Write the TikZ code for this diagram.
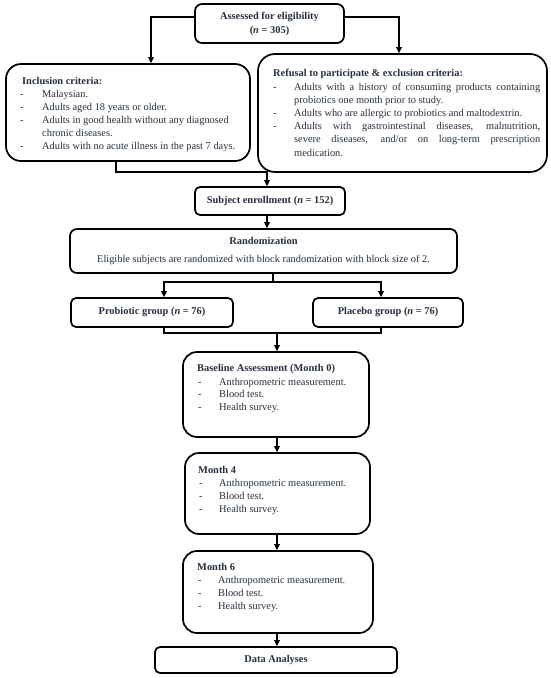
\documentclass[tikz,border=0pt]{standalone}
\usepackage{fontspec}
\setmainfont{Liberation Serif}
\usetikzlibrary{arrows.meta}
\definecolor{txt}{RGB}{38,48,62}
\hyphenpenalty=10000
\exhyphenpenalty=10000
\tolerance=10000
\begin{document}
\begin{tikzpicture}[x=1pt,y=-1pt,
  box/.style={draw=black, line width=1.7pt, inner sep=0pt, align=center, text=txt,
              font=\fontsize{10.4}{13}\selectfont},
  conn/.style={line width=1.2pt, draw=black},
  arr/.style={conn, -{Triangle[length=6pt,width=5.5pt]}},
  txtn/.style={inner sep=0pt, text=txt, anchor=base west, font=\fontsize{10.4}{13}\selectfont},
  ]
\useasboundingbox (0,0) rectangle (550,678);
\fill[white] (0,0) rectangle (550,678);

% boxes
\node[box, rounded corners=7pt, minimum width=149pt, minimum height=39pt] (assess) at (269.5,23.5)
  {\textbf{Assessed for eligibility}\\[1pt]\textbf{(\textit{n} = 305)}};
\node[box, rounded corners=15pt, minimum width=244pt, minimum height=97pt] (incl) at (128,112.5) {};
\node[box, rounded corners=17pt, minimum width=289pt, minimum height=118pt] (excl) at (402.5,113) {};
\node[box, rounded corners=5pt, minimum width=150pt, minimum height=28pt] (enroll) at (270,201)
  {\textbf{Subject enrollment (\textit{n} = 152)}};
\node[box, rounded corners=7pt, minimum width=387pt, minimum height=44pt] (rand) at (263.5,251)
  {\textbf{Randomization}\\[5pt]Eligible subjects are randomized with block randomization with block size of 2.};
\node[box, rounded corners=5pt, minimum width=162pt, minimum height=29pt] (prob) at (152,312.5)
  {\textbf{Probiotic group (\textit{n} = 76)}};
\node[box, rounded corners=5pt, minimum width=150pt, minimum height=29pt] (plac) at (388,312.5)
  {\textbf{Placebo group (\textit{n} = 76)}};
\node[box, rounded corners=14pt, minimum width=186pt, minimum height=85pt] (base) at (276,394.5) {};
\node[box, rounded corners=14pt, minimum width=185pt, minimum height=81pt] (m4) at (277.5,493.5) {};
\node[box, rounded corners=14pt, minimum width=190pt, minimum height=82pt] (m6) at (278,592) {};
\node[box, rounded corners=5pt, minimum width=242pt, minimum height=26pt] (data) at (276,660)
  {\textbf{Data Analyses}};

% texts of left-aligned boxes
\node[txtn] (inclh) at (22,84) {\textbf{Inclusion criteria:}};
\node[txtn] (incli) at (20,97) {\begin{tabular}[t]{@{}p{22pt}@{}l@{}}
  -&Malaysian.\\
  -&Adults aged 18 years or older.\\
  -&Adults in good health without any diagnosed\\
   &chronic diseases.\\
  -&Adults with no acute illness in the past 7 days.
  \end{tabular}};

\node[txtn] (exclh) at (273,76) {\textbf{Refusal to participate \& exclusion criteria:}};
\node[txtn, font=\fontsize{10.4}{13.2}\selectfont] (excli) at (273,90) {\begin{tabular}[t]{@{}p{21pt}@{}p{246pt}@{}}
  -&Adults with a history of consuming products containing probiotics one month prior to study.\\
  -&Adults who are allergic to probiotics and maltodextrin.\\
  -&Adults with gastrointestinal diseases, malnutrition,\linebreak severe diseases, and/or on long-term prescription medication.
  \end{tabular}};

\node[txtn] (baseh) at (197,371) {\textbf{Baseline Assessment (Month 0)}};
\node[txtn, font=\fontsize{10.4}{12.6}\selectfont] (basei) at (198,385) {\begin{tabular}[t]{@{}p{21pt}@{}l@{}}
  -&Anthropometric measurement.\\ -&Blood test.\\ -&Health survey.\end{tabular}};

\node[txtn] (m4h) at (198,473) {\textbf{Month 4}};
\node[txtn] (m4i) at (199,486) {\begin{tabular}[t]{@{}p{20pt}@{}l@{}}
  -&Anthropometric measurement.\\ -&Blood test.\\ -&Health survey.\end{tabular}};

\node[txtn] (m6h) at (197,570) {\textbf{Month 6}};
\node[txtn, font=\fontsize{10.4}{13.3}\selectfont] (m6i) at (198,583) {\begin{tabular}[t]{@{}p{20pt}@{}l@{}}
  -&Anthropometric measurement.\\ -&Blood test.\\ -&Health survey.\end{tabular}};

% helper coordinates
\coordinate (cL) at (151,0);
\coordinate (cR) at (399,0);
\coordinate (cI) at (116,0);
\coordinate (cJ) at (267,172);
\coordinate (cS) at (273,282);
\coordinate (cP) at (164,0);
\coordinate (cQ) at (381,0);
\coordinate (cM) at (277,333);

% connectors
\draw[arr] ([yshift=6.5pt]assess.west) -| (cL |- incl.north);
\draw[arr] ([yshift=6.5pt]assess.east) -| (cR |- excl.north);
\draw[arr] (cI |- incl.south) |- (cJ) -- (cJ |- enroll.north);
\draw[arr] (cJ |- enroll.south) -- (cJ |- rand.north);
\draw[conn] (cS |- rand.south) -- (cS);
\draw[arr] (cS) -| (cP |- prob.north);
\draw[arr] (cS) -| (cQ |- plac.north);
\draw[conn] (cP |- prob.south) |- (cM) -| (cQ |- plac.south);
\draw[arr] (cM) -- (cM |- base.north);
\draw[arr] (cM |- base.south) -- (cM |- m4.north);
\draw[arr] (cM |- m4.south) -- (cM |- m6.north);
\draw[arr] (cM |- m6.south) -- (cM |- data.north);
\end{tikzpicture}
\end{document}
